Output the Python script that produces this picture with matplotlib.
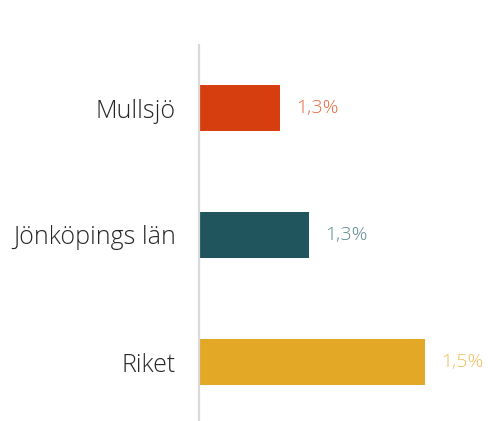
import matplotlib
matplotlib.use("Agg")
import matplotlib.pyplot as plt

plt.rcParams['font.family'] = ['Open Sans', 'DejaVu Sans']

# data
categories = ['Mullsjö', 'Jönköpings län', 'Riket']
values = [1.27, 1.32, 1.52]
bar_colors = ['#d63e10', '#21555d', '#e3a826']
label_colors = ['#e8683f', '#5a8790', '#edbf5e']

fig = plt.figure(figsize=(4.88, 4.21), dpi=100)
ax = fig.add_axes([199/488, -4.5/421, 289/488, 381/421])

y = range(len(categories))
ax.barh(y, values, height=46/127, color=bar_colors, left=0)
ax.set_xlim(1.13, 1.13 + 289/580)
ax.set_ylim(len(categories) - 0.5, -0.5)

for i, v in enumerate(values):
    ax.text(v + 16/580, i, f"{v:.1f}".replace('.', ',') + '%', va='center', ha='left',
            fontsize=14, color=label_colors[i], fontweight='light')

ax.set_yticks(list(y))
ax.set_yticklabels(categories, fontsize=18, color='#262626', fontweight='light')
ax.tick_params(axis='y', length=0, pad=16.5)
ax.set_xticks([])
for s in ['top', 'right', 'bottom']:
    ax.spines[s].set_visible(False)
ax.spines['left'].set_color('#d9d9d9')
ax.spines['left'].set_linewidth(1.6)

fig.savefig('out.png', dpi=100)
